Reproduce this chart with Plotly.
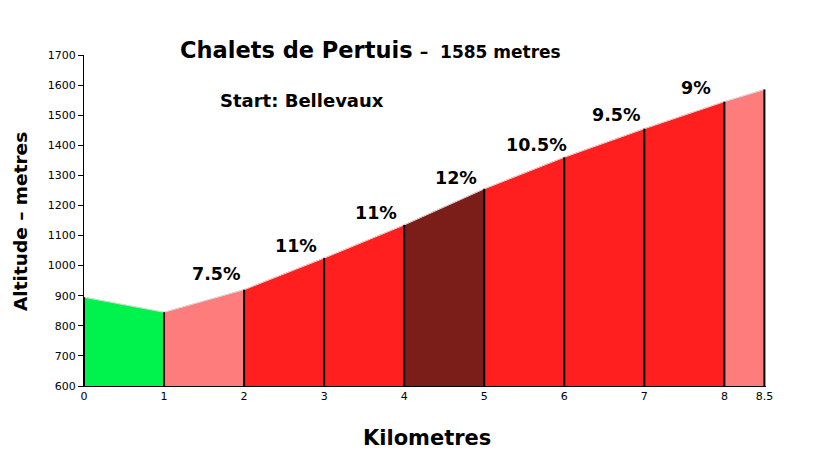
import plotly.graph_objects as go

km = [0, 1, 2, 3, 4, 5, 6, 7, 8, 8.5]
altitude = [895, 845, 920, 1025, 1135, 1255, 1360, 1455, 1545, 1585]
grade_labels = ["", "7.5%", "11%", "11%", "12%", "10.5%", "9.5%", "9%", ""]
segment_colors = ["#00f24d", "#ff7c7c", "#ff1f1f", "#ff1f1f", "#7b1e1a",
                  "#ff1f1f", "#ff1f1f", "#ff1f1f", "#ff7c7c"]
tick_vals = [0, 1, 2, 3, 4, 5, 6, 7, 8, 8.5]
tick_text = ["0", "1", "2", "3", "4", "5", "6", "7", "8", "8.5"]

BASE = 600
FONT = "DejaVu Sans"
XMAX = 8.52

fig = go.Figure()

for i in range(len(km) - 1):
    x0, x1 = km[i], km[i + 1]
    a0, a1 = altitude[i], altitude[i + 1]
    fig.add_trace(go.Scatter(
        x=[x0, x0, x1, x1, x0], y=[BASE, a0, a1, BASE, BASE],
        mode="lines", fill="toself", fillcolor=segment_colors[i],
        line=dict(color=segment_colors[i], width=0.5),
        hoverinfo="skip", showlegend=False))

# light top edge
fig.add_trace(go.Scatter(x=km, y=altitude, mode="lines",
                         line=dict(color="#d8d8d8", width=1),
                         hoverinfo="skip", showlegend=False))

# vertical black km lines
vx, vy = [], []
for x, a in zip(km, altitude):
    vx += [x, x, None]
    vy += [BASE, a, None]
fig.add_trace(go.Scatter(x=vx, y=vy, mode="lines",
                         line=dict(color="black", width=2),
                         hoverinfo="skip", showlegend=False))

annotations = []
for i, lab in enumerate(grade_labels):
    if not lab:
        continue
    x0, x1 = km[i], km[i + 1]
    a0, a1 = altitude[i], altitude[i + 1]
    xl = x0 + 0.65 * (x1 - x0)
    yl = a0 + 0.65 * (a1 - a0) + 78
    annotations.append(dict(x=xl, y=yl, xref="x", yref="y", text="<b>" + lab + "</b>",
                            showarrow=False,
                            font=dict(family=FONT, size=17.5, color="black"),
                            xanchor="center", yanchor="middle"))

PLOT_W = 680 * XMAX / 8.5

def px_x(p):
    return (p - 84) / PLOT_W

def px_y(p):
    return (386 - p) / 331

annotations += [
    dict(x=px_x(370), y=px_y(50), xref="paper", yref="paper", showarrow=False,
         text="<b>Chalets de Pertuis</b> <b><span style='font-size:17px'>–  1585 metres</span></b>",
         font=dict(family=FONT, size=22.5, color="black"),
         xanchor="center", yanchor="middle"),
    dict(x=px_x(302), y=px_y(100), xref="paper", yref="paper", showarrow=False,
         text="<b>Start: Bellevaux</b>",
         font=dict(family=FONT, size=18, color="black"),
         xanchor="center", yanchor="middle"),
    dict(x=px_x(20), y=px_y(221), xref="paper", yref="paper", showarrow=False,
         text="<b>Altitude – metres</b>", textangle=-90,
         font=dict(family=FONT, size=18.5, color="black"),
         xanchor="center", yanchor="middle"),
    dict(x=px_x(427), y=px_y(438), xref="paper", yref="paper", showarrow=False,
         text="<b>Kilometres</b>",
         font=dict(family=FONT, size=21, color="black"),
         xanchor="center", yanchor="middle"),
]

fig.update_layout(
    width=820, height=458,
    margin=dict(l=76, r=820 - 76 - PLOT_W, t=47, b=80),
    paper_bgcolor="white", plot_bgcolor="white",
    annotations=annotations,
    xaxis=dict(range=[0, XMAX], tickvals=tick_vals, ticktext=tick_text,
               showgrid=False, zeroline=False, showline=True,
               linecolor="black", linewidth=1, ticks="",
               tickfont=dict(family=FONT, size=11, color="black")),
    yaxis=dict(range=[600, 1700], dtick=100, showgrid=False, zeroline=False,
               showline=True, linecolor="black", linewidth=1,
               ticks="outside", ticklen=5, tickcolor="black",
               tickfont=dict(family=FONT, size=11, color="black")),
)

fig.write_html("out.html")
